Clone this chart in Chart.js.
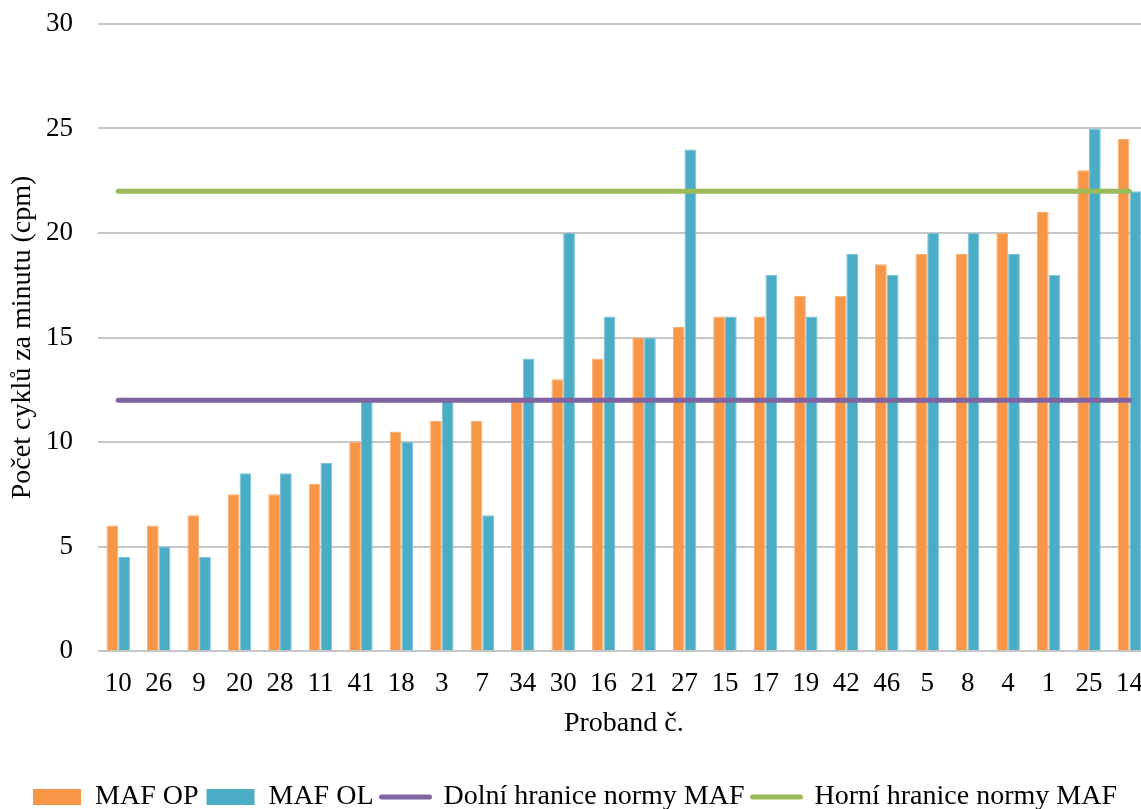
<!DOCTYPE html>
<html>
<head>
<meta charset="utf-8">
<script src="https://cdn.jsdelivr.net/npm/chart.js@4.4.1/dist/chart.umd.min.js"></script>
<style>
  html, body { margin: 0; padding: 0; background: #fff; overflow: hidden; }
  #wrap { width: 1152px; height: 821px; }
</style>
</head>
<body>
<div id="wrap"><canvas id="c" width="1152" height="821"></canvas></div>
<script>
// Proband numbers (x categories)
const probandi = ['10','26','9','20','28','11','41','18','3','7','34','30','16','21','27','15','17','19','42','46','5','8','4','1','25','14'];
// MAF values, cycles per minute
const mafOP = [6, 6, 6.5, 7.5, 7.5, 8, 10, 10.5, 11, 11, 12, 13, 14, 15, 15.5, 16, 16, 17, 17, 18.5, 19, 19, 20, 21, 23, 24.5];
const mafOL = [4.5, 5, 4.5, 8.5, 8.5, 9, 12, 10, 12, 6.5, 14, 20, 16, 15, 24, 16, 18, 16, 19, 18, 20, 20, 19, 18, 25, 22];
// Norm limits
const dolniHranice = 12;
const horniHranice = 22;
// Y axis range
const yMin = 0, yMax = 30, yStep = 5;

const FONT = "'Liberation Serif', 'Times New Roman', serif";
const PLOT_BOTTOM = 651;
const CANVAS_H = 821;

const ctx = document.getElementById('c').getContext('2d');
new Chart(ctx, {
  data: {
    labels: probandi,
    datasets: [
      {
        type: 'bar', label: 'MAF OP', data: mafOP,
        backgroundColor: '#F79646', borderColor: '#F9AE73', borderWidth: 1,
        categoryPercentage: 0.58, barPercentage: 1, order: 1
      },
      {
        type: 'bar', label: 'MAF OL', data: mafOL,
        backgroundColor: '#4BACC6', borderColor: '#7CC2D5', borderWidth: 1,
        categoryPercentage: 0.58, barPercentage: 1, order: 1
      },
      {
        type: 'line', label: 'Dolní hranice normy MAF', data: probandi.map(() => dolniHranice),
        borderColor: '#8064A2', backgroundColor: '#8064A2', borderWidth: 5,
        borderCapStyle: 'round', pointRadius: 0, fill: false, order: 0
      },
      {
        type: 'line', label: 'Horní hranice normy MAF', data: probandi.map(() => horniHranice),
        borderColor: '#9BBB59', backgroundColor: '#9BBB59', borderWidth: 5,
        borderCapStyle: 'round', pointRadius: 0, fill: false, order: 0
      }
    ]
  },
  options: {
    responsive: false,
    animation: false,
    devicePixelRatio: 1,
    layout: { padding: { top: 24, right: 2, left: 0, bottom: 0 } },
    plugins: {
      tooltip: { enabled: false },
      legend: {
        position: 'bottom',
        labels: {
          usePointStyle: true,
          pointStyleWidth: 48,
          boxHeight: 16,
          padding: 8,
          color: '#000',
          font: { family: FONT, size: 28 },
          sort: (a, b) => a.datasetIndex - b.datasetIndex,
          generateLabels(chart) {
            return chart.data.datasets.map((ds, i) => {
              const isLine = ds.type === 'line';
              return {
                text: ds.label,
                fillStyle: isLine ? ds.borderColor : ds.backgroundColor,
                strokeStyle: isLine ? ds.borderColor : ds.backgroundColor,
                lineWidth: isLine ? 5 : 0,
                lineCap: 'round',
                pointStyle: isLine ? 'line' : 'rect',
                fontColor: '#000',
                hidden: false,
                datasetIndex: i
              };
            });
          }
        }
      }
    },
    scales: {
      x: {
        offset: true,
        grid: { display: false },
        border: { display: false },
        ticks: { color: '#000', font: { family: FONT, size: 27 }, padding: 9, maxRotation: 0, autoSkip: false },
        title: {
          display: true, text: 'Proband č.', color: '#000',
          font: { family: FONT, size: 28 }, padding: { top: 0, bottom: 35 }
        },
        afterFit(scale) {
          const lg = scale.chart.legend;
          const lh = lg ? lg.height : 0;
          scale.height = CANVAS_H - PLOT_BOTTOM - lh;
        }
      },
      y: {
        min: yMin, max: yMax,
        border: { display: false },
        grid: { color: '#C6C6C6', lineWidth: 2, drawTicks: false },
        ticks: { stepSize: yStep, color: '#000', font: { family: FONT, size: 27 }, padding: 25 },
        title: {
          display: true, text: 'Počet cyklů za minutu (cpm)', color: '#000',
          font: { family: FONT, size: 28 }, padding: { top: 6, bottom: 0 }
        },
        afterFit(scale) {
          scale.width = 98;
          scale.paddingTop = 0;
          scale.paddingBottom = 0;
        }
      }
    }
  }
});
</script>
</body>
</html>
